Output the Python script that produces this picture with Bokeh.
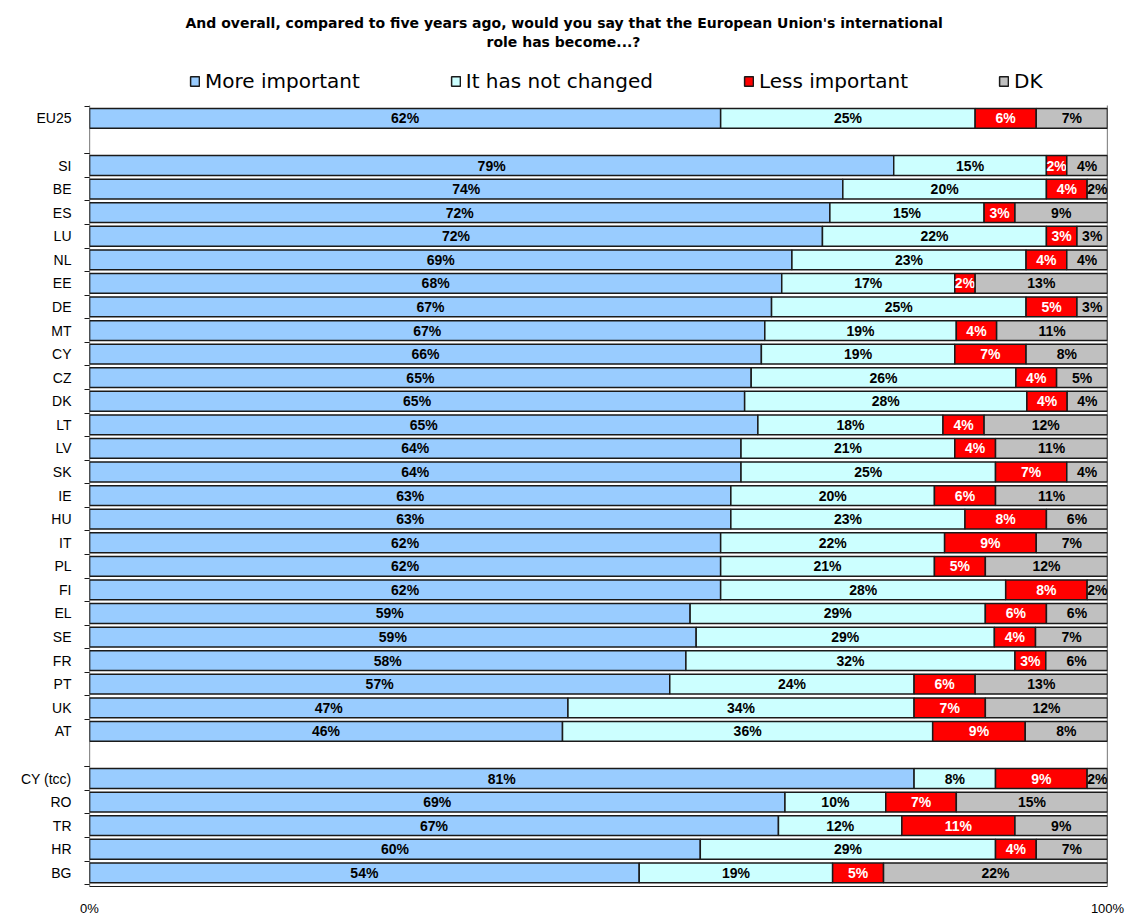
from bokeh.plotting import figure
from bokeh.models import (ColumnDataSource, FixedTicker, Range1d, Legend,
                          LegendItem, Title)
from bokeh.embed import file_html
from bokeh.resources import INLINE
from bokeh.core.properties import value

# ---------------- data ----------------
countries = ["EU25",
             "SI", "BE", "ES", "LU", "NL", "EE", "DE", "MT", "CY", "CZ", "DK", "LT",
             "LV", "SK", "IE", "HU", "IT", "PL", "FI", "EL", "SE", "FR", "PT", "UK", "AT",
             "CY (tcc)", "RO", "TR", "HR", "BG"]
more_important = [62,
                  79, 74, 72, 72, 69, 68, 67, 67, 66, 65, 65, 65,
                  64, 64, 63, 63, 62, 62, 62, 59, 59, 58, 57, 47, 46,
                  81, 69, 67, 60, 54]
not_changed = [25,
               15, 20, 15, 22, 23, 17, 25, 19, 19, 26, 28, 18,
               21, 25, 20, 23, 22, 21, 28, 29, 29, 32, 24, 34, 36,
               8, 10, 12, 29, 19]
less_important = [6,
                  2, 4, 3, 3, 4, 2, 5, 4, 7, 4, 4, 4,
                  4, 7, 6, 8, 9, 5, 8, 6, 4, 3, 6, 7, 9,
                  9, 7, 11, 4, 5]
dk = [7,
      4, 2, 9, 3, 4, 13, 3, 11, 8, 5, 4, 12,
      11, 4, 11, 6, 7, 12, 2, 6, 7, 6, 13, 12, 8,
      2, 15, 9, 7, 22]
gap_after = ["EU25", "AT"]          # blank row after these categories

series_names = ["More important", "It has not changed", "Less important", "DK"]
series_values = [more_important, not_changed, less_important, dk]
colors = ["#99CCFF", "#CCFFFF", "#FF0000", "#C0C0C0"]
label_colors = ["#000000", "#000000", "#FFFFFF", "#000000"]

title_line1 = "And overall, compared to five years ago, would you say that the European Union's international"
title_line2 = "role has become...?"

# ---------------- layout of rows ----------------
slots = []
s = 0
for c in countries:
    slots.append(s)
    s += 2 if c in gap_after else 1
ys = [-v for v in slots]
n_slots = s

totals = [sum(vals) for vals in zip(*series_values)]

y_top = ys[0] + 2.92         # room for the legend inside the frame
y_bottom = ys[-1] - 0.58

p = figure(width=1125, height=918, output_backend="svg", toolbar_location=None,
           x_range=Range1d(0, 1), y_range=Range1d(y_bottom, y_top),
           min_border_left=89, min_border_right=18, min_border_top=49,
           min_border_bottom=31, title_location=None)
p.background_fill_color = "white"
p.border_fill_color = "white"
p.outline_line_color = None
p.xgrid.visible = False
p.ygrid.visible = False

left = [0.0] * len(countries)
renderers = []
for name, vals, col, lcol in zip(series_names, series_values, colors, label_colors):
    frac = [v / t for v, t in zip(vals, totals)]
    right = [l + f for l, f in zip(left, frac)]
    src = ColumnDataSource(dict(
        y=ys, left=left, right=right,
        mid=[(l + r) / 2 for l, r in zip(left, right)],
        lbl=[f"{v}%" for v in vals]))
    r = p.hbar(y="y", left="left", right="right", height=0.84, source=src,
               fill_color=col, line_color="#1a1a1a", line_width=1.5)
    renderers.append(r)
    p.text(x="mid", y="y", text="lbl", source=src, text_align="center",
           text_baseline="middle", text_color=lcol,
           text_font=value("Liberation Sans"), text_font_style="bold",
           text_font_size="14px")
    left = right

# left axis line and right border of the plot area
edge_top = ys[0] + 0.55
p.segment(x0=[0, 1], x1=[0, 1], y0=[edge_top, edge_top], y1=[y_bottom, y_bottom],
          line_color="#1a1a1a", line_width=1.2)

# y axis
boundaries = [y + 0.5 for y in ys] + [ys[-1] - 0.5]
for g in gap_after:
    i = countries.index(g)
    boundaries.append(ys[i] - 1.5)
p.yaxis.ticker = FixedTicker(ticks=ys, minor_ticks=sorted(boundaries))
p.yaxis.major_label_overrides = {y: c for y, c in zip(ys, countries)}
p.yaxis.major_tick_line_color = None
p.yaxis.major_tick_out = 0
p.yaxis.major_tick_in = 0
p.yaxis.minor_tick_line_color = "#1a1a1a"
p.yaxis.minor_tick_out = 5
p.yaxis.minor_tick_in = 0
p.yaxis.axis_line_color = None
p.yaxis.major_label_standoff = 13
p.yaxis.major_label_text_font = "Liberation Sans"
p.yaxis.major_label_text_font_size = "14px"
p.yaxis.major_label_text_color = "#000000"

# x axis
p.xaxis.ticker = FixedTicker(ticks=[0, 1])
p.xaxis.major_label_overrides = {0: "0%", 1: "100%"}
p.xaxis.major_tick_line_color = None
p.xaxis.minor_tick_line_color = None
p.xaxis.major_tick_out = 0
p.xaxis.major_tick_in = 0
p.xaxis.minor_tick_out = 0
p.xaxis.minor_tick_in = 0
p.xaxis.axis_line_color = "#1a1a1a"
p.xaxis.major_label_standoff = 14
p.xaxis.major_label_text_font = "Liberation Sans"
p.xaxis.major_label_text_font_size = "13px"
p.xaxis.major_label_text_color = "#000000"

# legend (inside the top of the frame)
legend = Legend(items=[LegendItem(label=n, renderers=[r]) for n, r in zip(series_names, renderers)],
                orientation="horizontal", location=(100, 793),
                label_text_font="DejaVu Sans", label_text_font_size="20px",
                label_text_color="#000000",
                glyph_width=11, glyph_height=12, label_standoff=5, spacing=90,
                padding=0, margin=0, border_line_color=None, background_fill_alpha=0,
                label_height=22)
p.add_layout(legend)

p.add_layout(Title(text=title_line2, align="left", offset=397, text_font="DejaVu Sans",
                   text_font_style="bold", text_font_size="14px",
                   text_color="#000000", standoff=0), "above")
p.add_layout(Title(text=title_line1, align="left", offset=96, text_font="DejaVu Sans",
                   text_font_style="bold", text_font_size="14px",
                   text_color="#000000", standoff=2), "above")

open("out.html", "w").write(file_html(p, INLINE))
